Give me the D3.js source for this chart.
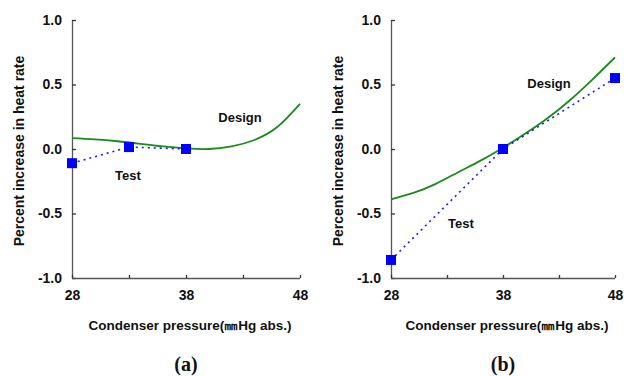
<!DOCTYPE html>
<html>
<head>
<meta charset="utf-8">
<script src="https://cdn.jsdelivr.net/npm/d3@7"></script>
<style>
  body { margin: 0; background: #fff; }
</style>
</head>
<body>
<div id="chart"></div>
<script>
// pressures on the x axis
var xTicks = [28, 33, 38, 43, 48];
var xLabels = [28, 38, 48];
var yTicks = [-1.0, -0.5, 0.0, 0.5, 1.0];

// panel (a)
var designPressureA = [28, 30, 32, 34, 36, 38, 40, 42, 44, 46, 48];
var designValueA = [0.085, 0.075, 0.06, 0.04, 0.02, 0.005, 0.0, 0.02, 0.07, 0.17, 0.35];
var testPressureA = [28, 33, 38];
var testValueA = [-0.11, 0.015, 0.0];

// panel (b)
var designPressureB = [28, 30, 32, 34, 36, 38, 40, 42, 44, 46, 48];
var designValueB = [-0.39, -0.34, -0.27, -0.18, -0.09, 0.01, 0.12, 0.24, 0.38, 0.54, 0.71];
var testPressureB = [28, 38, 48];
var testValueB = [-0.86, 0.0, 0.55];

var width = 633, height = 376;
var sans = 'Arial, "Liberation Sans", sans-serif';

var svg = d3.select('#chart')
            .append('svg')
            .attr('width', width)
            .attr('height', height);

function label(g, x, y, size, txt) {
    return g.append('text').attr('x', x).attr('y', y)
        .attr('text-anchor', 'middle')
        .style('font-family', sans).style('font-size', size + 'px').style('font-weight', 'bold')
        .attr('fill', '#111').text(txt);
}

function drawPanel(left, right, design, test, tag, designLabel, testLabel) {
    var x = d3.scaleLinear().domain([28, 48]).range([left, right]);
    var y = d3.scaleLinear().domain([-1, 1]).range([278, 20]);
    var g = svg.append('g');

    // axes
    var yAxis = d3.axisLeft(y).tickValues(yTicks).tickSize(-4).tickPadding(10)
        .tickFormat(d => d3.format('.1f')(d).replace('−', '-'));
    var xAxis = d3.axisBottom(x).tickValues(xTicks).tickSize(-3).tickPadding(12)
        .tickFormat(d => xLabels.indexOf(d) >= 0 ? d : '');

    var ya = g.append('g').attr('transform', 'translate(' + left + ',0)').call(yAxis);
    var xa = g.append('g').attr('transform', 'translate(0,278)').call(xAxis);
    [ya, xa].forEach(function(a) {
        a.select('.domain').attr('stroke', '#555').attr('stroke-width', 1.3);
        a.selectAll('.tick line').attr('stroke', '#333').attr('stroke-width', 1.3);
        a.selectAll('text').style('font-size', '14px').style('font-weight', 'bold')
            .attr('fill', '#111').style('font-family', sans);
    });
    ya.select('.domain').attr('d', 'M0.5,20V278.5');
    xa.select('.domain').attr('d', 'M' + left + ',0.5H' + right);

    // design curve
    var line = d3.line().x(d => x(d[0])).y(d => y(d[1])).curve(d3.curveNatural);
    var dPts = d3.zip(design[0], design[1]);
    g.append('path').datum(dPts).attr('d', line)
        .attr('fill', 'none').attr('stroke', '#1a8a1a').attr('stroke-width', 1.8);

    // test line + squares
    var tPts = d3.zip(test[0], test[1]);
    g.append('path').datum(tPts).attr('d', d3.line().x(d => x(d[0])).y(d => y(d[1])))
        .attr('fill', 'none').attr('stroke', '#1a1aff').attr('stroke-width', 1.6)
        .attr('stroke-dasharray', '2,4');
    g.selectAll('rect.pt').data(tPts).enter().append('rect')
        .attr('class', 'pt')
        .attr('x', d => x(d[0]) - 5).attr('y', d => y(d[1]) - 5)
        .attr('width', 10).attr('height', 10).attr('fill', '#0000ff');

    // labels
    label(g, designLabel[0], designLabel[1], 13, 'Design');
    label(g, testLabel[0], testLabel[1], 13, 'Test');

    // titles
    var cx = (left + right) / 2;
    label(g, cx + 4, 330, 13.5, 'Condenser pressure(㎜Hg abs.)');
    label(g, 0, 0, 14, 'Percent increase in heat rate')
        .attr('transform', 'translate(' + (left - 48) + ',151) rotate(-90)');
    g.append('text').attr('x', cx).attr('y', 371)
        .attr('text-anchor', 'middle')
        .style('font-family', '"Liberation Serif", "Times New Roman", serif')
        .style('font-size', '20px').style('font-weight', 'bold')
        .attr('fill', '#111').text(tag);
}

drawPanel(72, 300, [designPressureA, designValueA], [testPressureA, testValueA], '(a)',
    [240, 122], [128, 180]);
drawPanel(391, 615, [designPressureB, designValueB], [testPressureB, testValueB], '(b)',
    [549, 88], [461, 228]);
</script>
</body>
</html>
